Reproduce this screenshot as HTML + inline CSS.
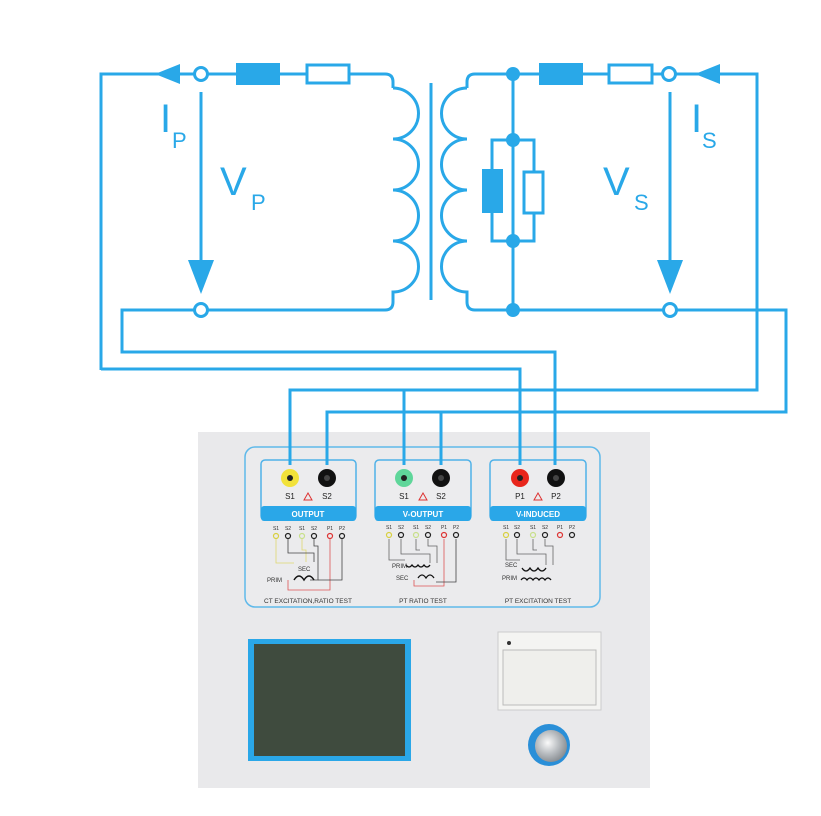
<!DOCTYPE html>
<html><head><meta charset="utf-8"><style>
html,body{margin:0;padding:0;background:#fff;}
svg{display:block;font-family:"Liberation Sans",sans-serif;}
</style></head><body>
<svg width="821" height="816" viewBox="0 0 821 816" xmlns="http://www.w3.org/2000/svg">
<defs>
<radialGradient id="knob" cx="0.4" cy="0.4" r="0.7"><stop offset="0" stop-color="#fafafa"/><stop offset="0.5" stop-color="#b8bcc0"/><stop offset="1" stop-color="#7d8287"/></radialGradient>
</defs>
<!-- panel -->
<rect x="198" y="432" width="452" height="356" fill="#e9e9eb"/>
<rect x="245" y="447" width="355" height="160" rx="10" fill="#ebebed" stroke="#5fb9ea" stroke-width="1.5"/>
<g fill="#ececee" stroke="#4fb1e8" stroke-width="1.5">
<rect x="261" y="460" width="95" height="60" rx="4"/>
<rect x="375" y="460" width="96" height="60" rx="4"/>
<rect x="490" y="460" width="96" height="60" rx="4"/>
</g>
<g fill="#2aa7e8">
<rect x="261" y="506" width="95" height="15" rx="3"/>
<rect x="375" y="506" width="96" height="15" rx="3"/>
<rect x="490" y="506" width="96" height="15" rx="3"/>
</g>
<g fill="#fff" font-size="8" font-weight="bold" text-anchor="middle">
<text x="308" y="517">OUTPUT</text><text x="423" y="517">V-OUTPUT</text><text x="538" y="517">V-INDUCED</text>
</g>
<!-- jacks -->
<g>
<circle cx="290" cy="478" r="9" fill="#f2e23a"/><circle cx="290" cy="478" r="3" fill="#222"/>
<circle cx="327" cy="478" r="9" fill="#111"/><circle cx="327" cy="478" r="3" fill="#444"/>
<circle cx="404" cy="478" r="9" fill="#5fd69a"/><circle cx="404" cy="478" r="3" fill="#222"/>
<circle cx="441" cy="478" r="9" fill="#111"/><circle cx="441" cy="478" r="3" fill="#444"/>
<circle cx="520" cy="478" r="9" fill="#e8261c"/><circle cx="520" cy="478" r="3" fill="#222"/>
<circle cx="556" cy="478" r="9" fill="#111"/><circle cx="556" cy="478" r="3" fill="#444"/>
</g>
<g font-size="8" fill="#222" text-anchor="middle">
<text x="290" y="499">S1</text><text x="327" y="499">S2</text>
<text x="404" y="499">S1</text><text x="441" y="499">S2</text>
<text x="520" y="499">P1</text><text x="556" y="499">P2</text>
</g>
<g fill="none" stroke="#d33" stroke-width="1">
<path d="M308 493 l4 7 h-8z"/><path d="M423 493 l4 7 h-8z"/><path d="M538 493 l4 7 h-8z"/>
</g>
<!-- small diagrams -->
<g font-size="5" fill="#333" text-anchor="middle">
<text x="276" y="530">S1</text><text x="288" y="530">S2</text><text x="302" y="530">S1</text><text x="314" y="530">S2</text><text x="330" y="530">P1</text><text x="342" y="530">P2</text>
<text x="389" y="529">S1</text><text x="401" y="529">S2</text><text x="416" y="529">S1</text><text x="428" y="529">S2</text><text x="444" y="529">P1</text><text x="456" y="529">P2</text>
<text x="506" y="529">S1</text><text x="517" y="529">S2</text><text x="533" y="529">S1</text><text x="545" y="529">S2</text><text x="560" y="529">P1</text><text x="572" y="529">P2</text>
</g>
<g fill="none" stroke-width="1.2">
<g stroke="#d8d040"><circle cx="276" cy="536" r="2.5"/><circle cx="389" cy="535" r="2.5"/><circle cx="506" cy="535" r="2.5"/></g>
<g stroke="#c8e08a"><circle cx="302" cy="536" r="2.5"/><circle cx="416" cy="535" r="2.5"/><circle cx="533" cy="535" r="2.5"/></g>
<g stroke="#d33"><circle cx="330" cy="536" r="2.5"/><circle cx="444" cy="535" r="2.5"/><circle cx="560" cy="535" r="2.5"/></g>
<g stroke="#222"><circle cx="288" cy="536" r="2.5"/><circle cx="314" cy="536" r="2.5"/><circle cx="342" cy="536" r="2.5"/>
<circle cx="401" cy="535" r="2.5"/><circle cx="428" cy="535" r="2.5"/><circle cx="456" cy="535" r="2.5"/>
<circle cx="517" cy="535" r="2.5"/><circle cx="545" cy="535" r="2.5"/><circle cx="572" cy="535" r="2.5"/></g>
</g>
<g fill="none" stroke-width="0.8">
<path d="M276 539 V563 H294 M302 539 V550 H306 V562" stroke="#e0d870"/>
<path d="M288 539 V553 H314 V562 M314 539 V546 H318 V580 H310" stroke="#444"/>
<path d="M330 539 V590 H288 V580" stroke="#d55"/>
<path d="M342 539 V580 H318" stroke="#444"/>
<path d="M294 580 q5 -8 10 0 q5 -8 10 0" stroke="#111" stroke-width="1.5"/>
<path d="M389 539 V560 H405 M401 539 V554 H430 V563 M416 539 V550 H420 M428 539 V546 H437 V563" stroke="#666"/>
<path d="M406 565 q3 4 6 0 q3 4 6 0 q3 4 6 0 q3 4 6 0" stroke="#111" stroke-width="1.3"/>
<path d="M418 578 q4 -6 8 0 q4 -6 8 0" stroke="#111" stroke-width="1.3"/>
<path d="M444 539 V586 H414 V580" stroke="#d55"/><path d="M456 539 V582 H436" stroke="#444"/>
<path d="M506 539 V560 H520 M517 539 V554 H546 V565 M533 539 V550 H537 M545 539 V546 H553 V565" stroke="#666"/>
<path d="M522 568 q4 6 8 0 q4 6 8 0 q4 6 8 0" stroke="#111" stroke-width="1.3"/>
<path d="M521 580 q3 -4 6 0 q3 -4 6 0 q3 -4 6 0 q3 -4 6 0 q3 -4 6 0" stroke="#111" stroke-width="1.3"/>
</g>
<g font-size="6" fill="#333">
<text x="298" y="571">SEC</text><text x="267" y="582">PRIM</text>
<text x="392" y="568">PRIM</text><text x="396" y="580">SEC</text>
<text x="505" y="567">SEC</text><text x="502" y="580">PRIM</text>
</g>
<g font-size="6.5" fill="#333" text-anchor="middle">
<text x="308" y="603">CT EXCITATION,RATIO TEST</text>
<text x="423" y="603">PT RATIO TEST</text>
<text x="538" y="603">PT EXCITATION TEST</text>
</g>
<!-- screen -->
<rect x="248" y="639" width="163" height="122" fill="#2aa7e8"/>
<rect x="254" y="644" width="151" height="112" fill="#3f4b3e"/>
<!-- printer -->
<rect x="498" y="632" width="103" height="78" fill="#f4f4f2" stroke="#ccc"/>
<rect x="503" y="650" width="93" height="55" fill="#efefec" stroke="#bbb"/>
<circle cx="509" cy="643" r="2" fill="#333"/>
<!-- knob -->
<circle cx="549" cy="745" r="21" fill="#2a8fd8"/>
<circle cx="551" cy="746" r="16" fill="url(#knob)"/>
<!-- circuit -->
<g fill="none" stroke="#29a8e8" stroke-width="3">
<path d="M101 370 V74 H196"/>
<path d="M206 74 H385 q8 0 8 8 V88"/>
<path d="M393 88 a25.5 25.5 0 0 1 0 51 a25.5 25.5 0 0 1 0 51 a25.5 25.5 0 0 1 0 51 a25.5 25.5 0 0 1 0 51 V302 q0 8 -8 8 H208"/>
<path d="M194 310 H122 V352 H555 V465"/>
<path d="M101 369 H520 V465"/>
<path d="M201 92 V265"/>
<line x1="431" y1="83" x2="431" y2="300"/>
<path d="M513 74 H475 q-8 0 -8 8 V88"/>
<path d="M467 88 a25.5 25.5 0 0 0 0 51 a25.5 25.5 0 0 0 0 51 a25.5 25.5 0 0 0 0 51 a25.5 25.5 0 0 0 0 51 V302 q0 8 8 8 H663"/>
<path d="M513 74 H662 M676 74 H757 V390 H290 V465"/>
<path d="M513 74 V310"/>
<path d="M492 140 H534 V241 H492 Z"/>
<path d="M677 310 H786 V412 H327 V465"/>
<path d="M404 390 V465 M441 412 V465"/>
<path d="M670 92 V265"/>
</g>
<g fill="#fff" stroke="#29a8e8" stroke-width="3">
<rect x="307" y="65" width="42" height="18"/>
<rect x="609" y="65" width="43" height="18"/>
<rect x="524" y="172" width="19" height="41"/>
<circle cx="201" cy="74" r="6.5"/><circle cx="201" cy="310" r="6.5"/>
<circle cx="669" cy="74" r="6.5"/><circle cx="670" cy="310" r="6.5"/>
</g>
<g fill="#29a8e8">
<rect x="236" y="63" width="44" height="22"/>
<rect x="539" y="63" width="44" height="22"/>
<rect x="482" y="169" width="21" height="44"/>
<circle cx="513" cy="74" r="7"/><circle cx="513" cy="140" r="7"/><circle cx="513" cy="241" r="7"/><circle cx="513" cy="310" r="7"/>
<path d="M155 74 L180 64 V84 Z"/>
<path d="M695 74 L720 64 V84 Z"/>
<path d="M188 260 H214 L201 294 Z"/>
<path d="M657 260 H683 L670 294 Z"/>
</g>
<g fill="#29a8e8" font-weight="300">
<text x="160" y="132" font-size="40">I</text><text x="172" y="148" font-size="22">P</text>
<text x="220" y="195" font-size="40">V</text><text x="251" y="210" font-size="22">P</text>
<text x="603" y="195" font-size="40">V</text><text x="634" y="210" font-size="22">S</text>
<text x="691" y="132" font-size="40">I</text><text x="702" y="148" font-size="22">S</text>
</g>
</svg>
</body></html>
